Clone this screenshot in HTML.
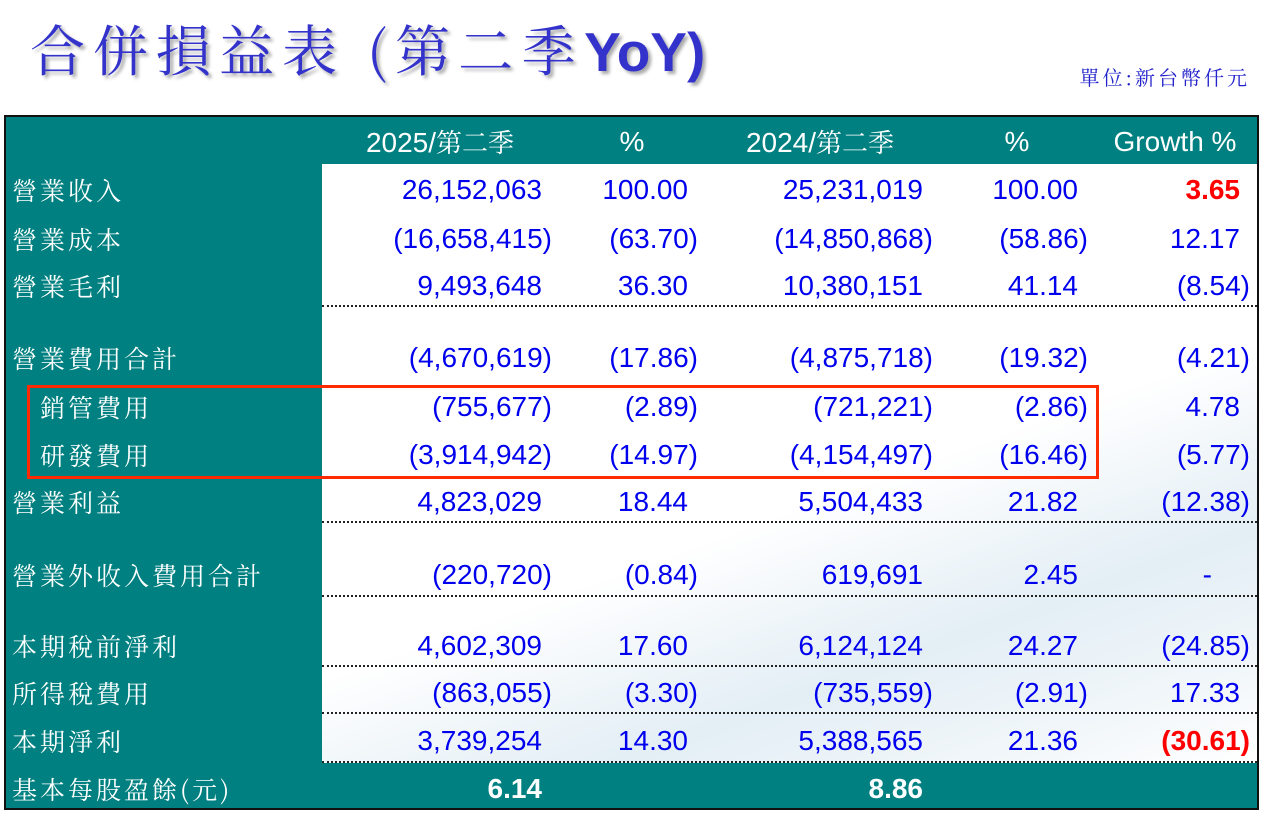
<!DOCTYPE html>
<html><head><meta charset="utf-8"><style>
body{margin:0;width:1262px;height:813px;background:#fff;position:relative;overflow:hidden;font-family:"Liberation Sans",sans-serif}
.a{position:absolute;white-space:nowrap}
.t{left:30px;top:8px;font-family:"Noto Serif CJK TC","Noto Serif CJK SC","Noto Sans CJK TC",serif;font-size:55px;color:#3333cc;letter-spacing:8px;text-shadow:3px 3px 3px #aaa}
.u{right:12px;top:62px;font-family:"Noto Serif CJK SC",serif;font-size:20px;color:#2222cc;letter-spacing:3px}
#box{position:absolute;left:4px;top:115px;width:1251px;height:691px;border:2px solid #111;background:#008080}
#wh{position:absolute;left:322px;top:164px;width:935px;height:599px;background:linear-gradient(160deg,#fff 0%,#fff 55%,#e3eef5 75%,#f2f7fa 90%,#fff 100%)}
.h{color:#fff;font-size:28px;top:124px;height:36px;line-height:36px;transform:translateX(-50%)}
.h span{font-family:"Noto Serif CJK SC",serif;font-size:26px}
.l{left:12px;color:#fff;font-family:"Noto Serif CJK SC",serif;font-size:25px;letter-spacing:3px;transform:translateY(-50%)}
.n{color:#0000ee;font-size:28px;transform:translateY(-50%)}
.d{position:absolute;left:322px;width:935px;height:0;border-top:2px dotted #222}
.red{color:#ff0000;font-weight:bold}
.w{color:#fff;font-weight:bold}
#rb{position:absolute;left:27px;top:385px;width:1066px;height:88px;border:3px solid #ff2a00}
</style></head><body>
<div class="a t">合併損益表 (第二季<span style="font-family:'Liberation Sans',sans-serif;font-weight:bold;letter-spacing:0">YoY)</span></div>
<div class="a u">單位:新台幣仟元</div>
<div id="box"></div>
<div id="wh"></div>
<div class="a h" style="left:440px">2025/<span>第二季</span></div>
<div class="a h" style="left:632px">%</div>
<div class="a h" style="left:820px">2024/<span>第二季</span></div>
<div class="a h" style="left:1017px">%</div>
<div class="a h" style="left:1175px">Growth %</div>

<div class="d" style="top:305px"></div>
<div class="d" style="top:521px"></div>
<div class="d" style="top:595px"></div>
<div class="d" style="top:665px"></div>
<div class="d" style="top:712px"></div>
<div class="d" style="top:761px"></div>
<div id="rb"></div>

<div id="rows"></div>
<script>
const R=[
[190,"營業收入",["26,152,063","100.00","25,231,019","100.00","3.65"],0,4],
[239,"營業成本",["(16,658,415)","(63.70)","(14,850,868)","(58.86)","12.17"]],
[286,"營業毛利",["9,493,648","36.30","10,380,151","41.14","(8.54)"]],
[358,"營業費用合計",["(4,670,619)","(17.86)","(4,875,718)","(19.32)","(4.21)"]],
[407," 銷管費用",["(755,677)","(2.89)","(721,221)","(2.86)","4.78"],1],
[455," 研發費用",["(3,914,942)","(14.97)","(4,154,497)","(16.46)","(5.77)"],1],
[502,"營業利益",["4,823,029","18.44","5,504,433","21.82","(12.38)"]],
[575,"營業外收入費用合計",["(220,720)","(0.84)","619,691","2.45","-"]],
[646,"本期稅前淨利",["4,602,309","17.60","6,124,124","24.27","(24.85)"]],
[693,"所得稅費用",["(863,055)","(3.30)","(735,559)","(2.91)","17.33"]],
[741,"本期淨利",["3,739,254","14.30","5,388,565","21.36","(30.61)"],0,4],
[789,"基本每股盈餘(元)",["6.14","","8.86","",""],0,-1]];
const E=[542,688,923,1078,1240];
let h="";
for(const r of R){
 h+=`<div class="a l" style="top:${r[0]}px;${r[3]?'left:40px':''}">${r[1].trim()}</div>`;
 r[2].forEach((v,i)=>{if(!v)return;let e=E[i];if(v.endsWith(")"))e+=10;if(v=="-")e=1212;
  let c=(r[4]===i)?"red":(r[4]===-1?"w":"");
  h+=`<div class="a n ${c}" style="top:${r[0]}px;right:${1262-e}px">${v}</div>`;});
}
document.getElementById("rows").innerHTML=h;
</script>
</body></html>
